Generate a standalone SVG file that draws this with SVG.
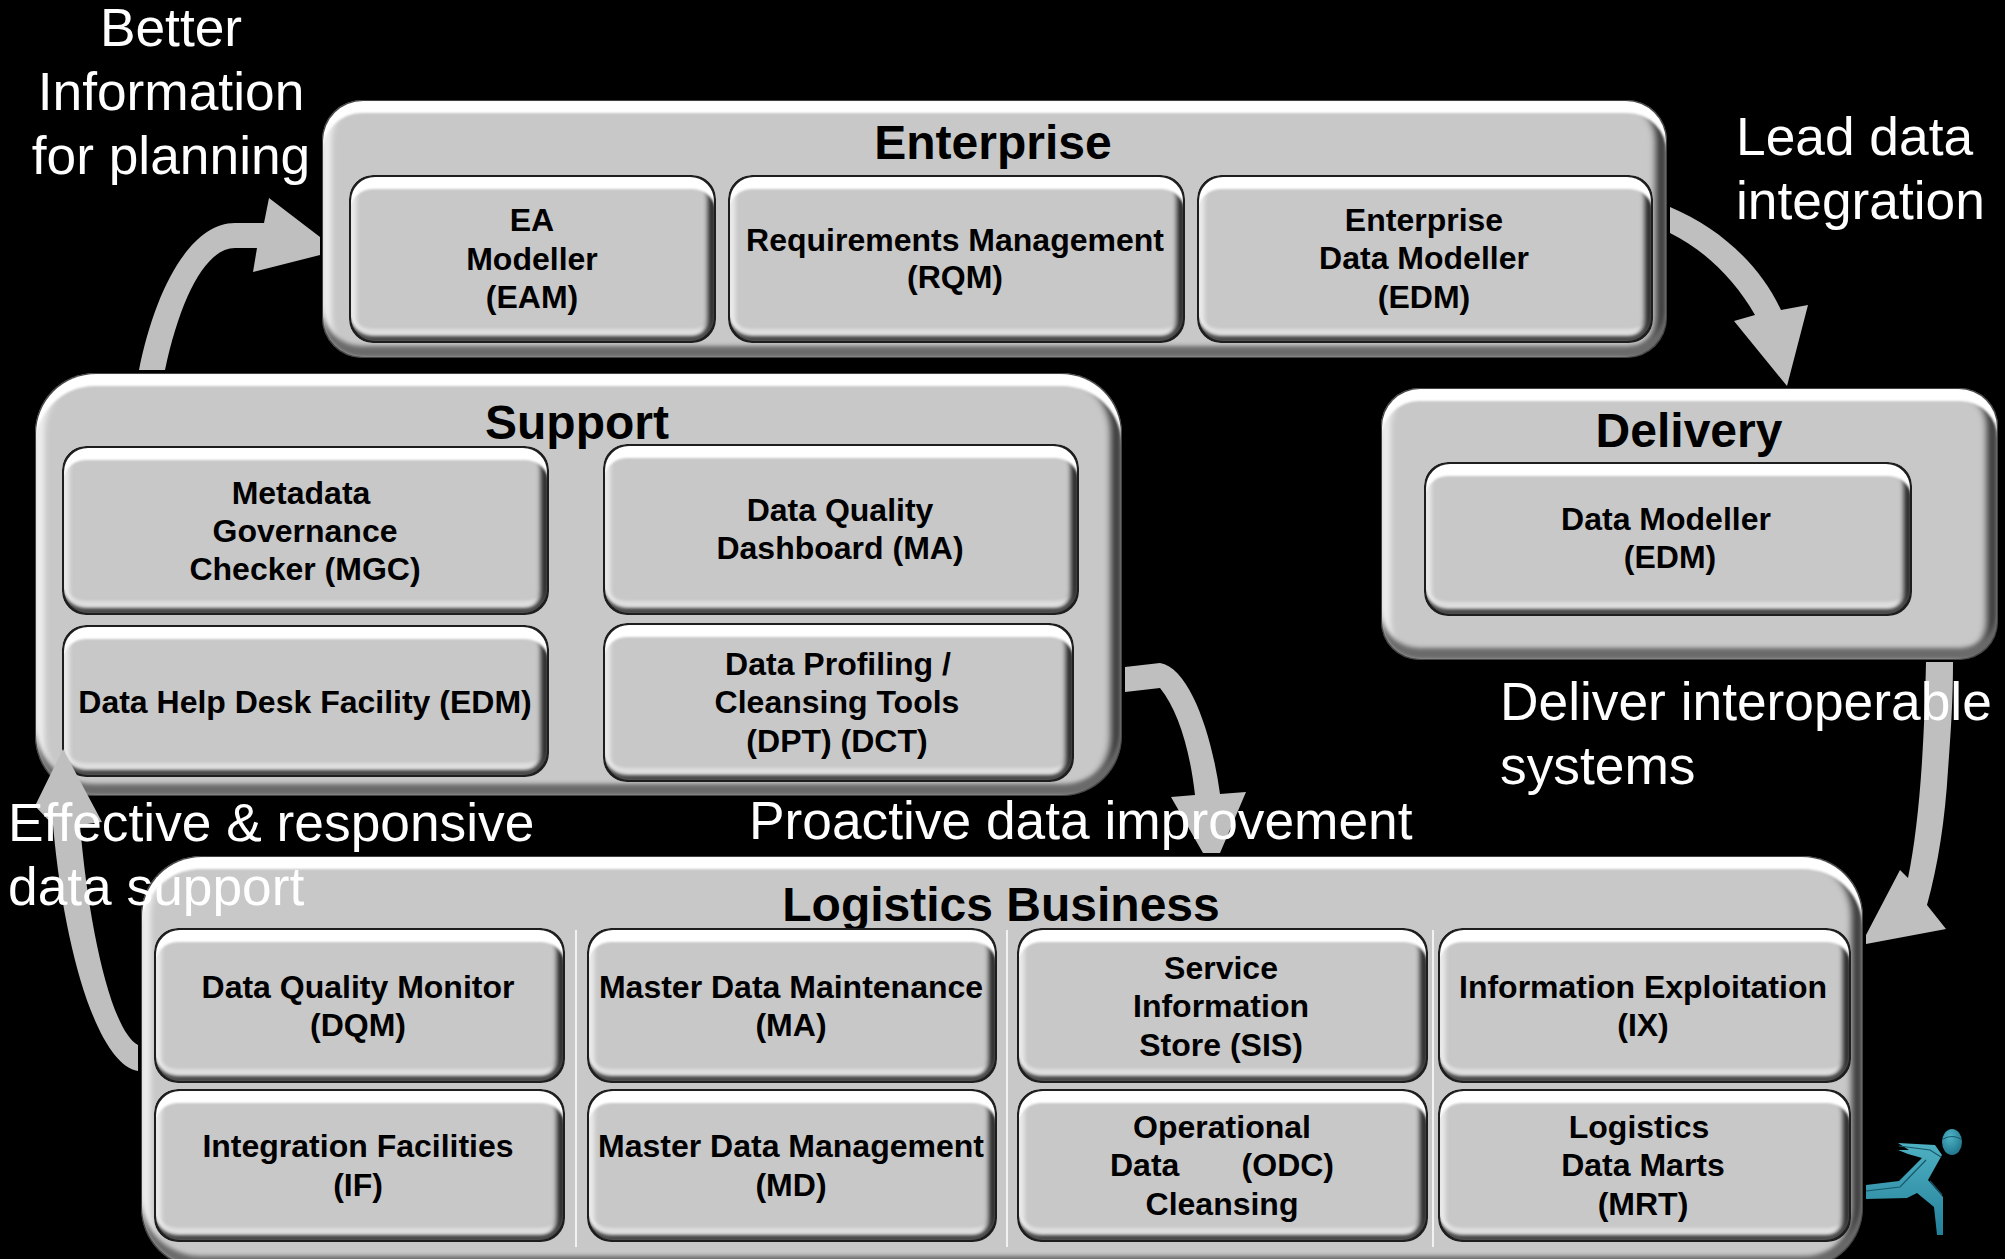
<svg xmlns="http://www.w3.org/2000/svg" width="2005" height="1259" viewBox="0 0 2005 1259">
<style>
text{font-family:"Liberation Sans",Arial,sans-serif}
.p{fill:#c8c8c8;filter:url(#bevP)}
.s{fill:#c8c8c8;filter:url(#bevS)}
.t{font-size:32px;font-weight:700;fill:#000;text-anchor:middle}
.h{font-size:48px;font-weight:700;fill:#000;text-anchor:middle}
.l{font-size:53.3px;fill:#fff}
.c{text-anchor:middle}
.a{fill:#bfbfbf}
.sep{stroke:#fff;stroke-width:1.5;fill:none}
</style>
<defs>
<filter id="bevP" x="-2%" y="-4%" width="104%" height="108%" color-interpolation-filters="sRGB">
<feOffset in="SourceAlpha" dy="13" result="a1"/><feComposite in="SourceAlpha" in2="a1" operator="out"/><feGaussianBlur stdDeviation="1.2" result="b1"/><feFlood flood-color="#fff"/><feComposite in2="b1" operator="in" result="top"/>
<feOffset in="SourceAlpha" dy="-12" result="a2"/><feComposite in="SourceAlpha" in2="a2" operator="out"/><feGaussianBlur stdDeviation="2" result="b2"/><feFlood flood-color="#6a6a6a"/><feComposite in2="b2" operator="in" result="bot"/>
<feOffset in="SourceAlpha" dx="9" result="a3"/><feComposite in="SourceAlpha" in2="a3" operator="out"/><feGaussianBlur stdDeviation="3" result="b3"/><feFlood flood-color="#f2f2f2"/><feComposite in2="b3" operator="in" result="lft"/>
<feOffset in="SourceAlpha" dx="-11" result="a4"/><feComposite in="SourceAlpha" in2="a4" operator="out"/><feGaussianBlur stdDeviation="3.5" result="b4"/><feFlood flood-color="#333"/><feComposite in2="b4" operator="in" result="rgt"/>
<feMorphology in="SourceAlpha" operator="erode" radius="1" result="e"/><feComposite in="SourceAlpha" in2="e" operator="out" result="o"/><feFlood flood-color="#444"/><feComposite in2="o" operator="in" result="line"/>
<feMerge result="m"><feMergeNode in="SourceGraphic"/><feMergeNode in="lft"/><feMergeNode in="rgt"/><feMergeNode in="bot"/><feMergeNode in="top"/><feMergeNode in="line"/></feMerge>
<feComposite in="m" in2="SourceAlpha" operator="in"/>
</filter>
<filter id="bevS" x="-3%" y="-5%" width="106%" height="110%" color-interpolation-filters="sRGB">
<feOffset in="SourceAlpha" dy="14" result="a1"/><feComposite in="SourceAlpha" in2="a1" operator="out"/><feGaussianBlur stdDeviation="1.2" result="b1"/><feFlood flood-color="#fff"/><feComposite in2="b1" operator="in" result="top"/>
<feOffset in="SourceAlpha" dy="-7" result="a2"/><feComposite in="SourceAlpha" in2="a2" operator="out"/><feGaussianBlur stdDeviation="1.5" result="b2"/><feFlood flood-color="#4a4a4a"/><feComposite in2="b2" operator="in" result="bot"/>
<feOffset in="SourceAlpha" dy="-14" result="a5"/><feComposite in="SourceAlpha" in2="a5" operator="out"/><feGaussianBlur stdDeviation="1.5" result="b5"/><feFlood flood-color="#dedede"/><feComposite in2="b5" operator="in" result="bot2"/>
<feOffset in="SourceAlpha" dx="7" result="a3"/><feComposite in="SourceAlpha" in2="a3" operator="out"/><feGaussianBlur stdDeviation="2.5" result="b3"/><feFlood flood-color="#eee"/><feComposite in2="b3" operator="in" result="lft"/>
<feOffset in="SourceAlpha" dx="-8" result="a4"/><feComposite in="SourceAlpha" in2="a4" operator="out"/><feGaussianBlur stdDeviation="2.5" result="b4"/><feFlood flood-color="#222"/><feComposite in2="b4" operator="in" result="rgt"/>
<feMorphology in="SourceAlpha" operator="erode" radius="2" result="e"/><feComposite in="SourceAlpha" in2="e" operator="out" result="o"/><feFlood flood-color="#1e1e1e"/><feComposite in2="o" operator="in" result="line"/>
<feMerge result="m"><feMergeNode in="SourceGraphic"/><feMergeNode in="bot2"/><feMergeNode in="lft"/><feMergeNode in="rgt"/><feMergeNode in="bot"/><feMergeNode in="top"/><feMergeNode in="line"/></feMerge>
<feComposite in="m" in2="SourceAlpha" operator="in"/>
</filter>
<linearGradient id="teal" x1="0" y1="0" x2="0" y2="1"><stop offset="0" stop-color="#4fb0c2"/><stop offset="1" stop-color="#23809a"/></linearGradient>
<radialGradient id="tealH" cx="0.4" cy="0.3" r="0.8"><stop offset="0" stop-color="#4fb3c5"/><stop offset="1" stop-color="#1c7087"/></radialGradient>
</defs>
<rect width="2005" height="1259" fill="#000"/>

<g id="enterprise">
<rect class="p" x="322" y="100" width="1345" height="258" rx="40"/>
<text class="h" x="993" y="159">Enterprise</text>
</g>
<g id="eam"><rect class="s" x="349" y="175" width="367" height="168" rx="24"/>
<text class="t"><tspan x="532" y="231">EA</tspan><tspan x="532" y="270">Modeller</tspan><tspan x="532" y="308">(EAM)</tspan></text></g>
<g id="rqm"><rect class="s" x="728" y="175" width="457" height="168" rx="24"/>
<text class="t"><tspan x="955" y="251">Requirements Management</tspan><tspan x="955" y="288">(RQM)</tspan></text></g>
<g id="edm-ent"><rect class="s" x="1197" y="175" width="456" height="168" rx="24"/>
<text class="t"><tspan x="1424" y="231">Enterprise</tspan><tspan x="1424" y="269">Data Modeller</tspan><tspan x="1424" y="308">(EDM)</tspan></text></g>

<g id="support">
<rect class="p" x="35" y="373" width="1087" height="423" rx="60"/>
<text class="h" x="577" y="439">Support</text>
</g>
<g id="mgc"><rect class="s" x="62" y="446" width="487" height="169" rx="24"/>
<text class="t"><tspan x="301" y="504">Metadata</tspan><tspan x="305" y="542">Governance</tspan><tspan x="305" y="580">Checker (MGC)</tspan></text></g>
<g id="dq"><rect class="s" x="603" y="444" width="476" height="171" rx="24"/>
<text class="t"><tspan x="840" y="521">Data Quality</tspan><tspan x="840" y="559">Dashboard (MA)</tspan></text></g>
<g id="help"><rect class="s" x="62" y="625" width="487" height="152" rx="24"/>
<text class="t" x="305" y="713">Data Help Desk Facility (EDM)</text></g>
<g id="dpt"><rect class="s" x="603" y="623" width="471" height="159" rx="24"/>
<text class="t"><tspan x="838" y="675">Data Profiling /</tspan><tspan x="837" y="713">Cleansing Tools</tspan><tspan x="837" y="752">(DPT) (DCT)</tspan></text></g>

<g id="delivery">
<rect class="p" x="1381" y="388" width="617" height="272" rx="38"/>
<text class="h" x="1689" y="447">Delivery</text>
</g>
<g id="dm"><rect class="s" x="1424" y="462" width="488" height="154" rx="24"/>
<text class="t"><tspan x="1666" y="530">Data Modeller</tspan><tspan x="1670" y="568">(EDM)</tspan></text></g>

<g id="logistics">
<rect class="p" x="141" y="856" width="1722" height="412" rx="60"/>
<text class="h" x="1001" y="921">Logistics Business</text>
<path class="sep" d="M576,930V1247M1007,930V1247M1433,930V1247"/>
</g>
<g id="dqm"><rect class="s" x="154" y="928" width="411" height="155" rx="24"/>
<text class="t"><tspan x="358" y="998">Data Quality Monitor</tspan><tspan x="358" y="1036">(DQM)</tspan></text></g>
<g id="if"><rect class="s" x="154" y="1089" width="411" height="153" rx="24"/>
<text class="t"><tspan x="358" y="1157">Integration Facilities</tspan><tspan x="358" y="1196">(IF)</tspan></text></g>
<g id="ma"><rect class="s" x="587" y="928" width="410" height="155" rx="24"/>
<text class="t"><tspan x="791" y="998">Master Data Maintenance</tspan><tspan x="791" y="1036">(MA)</tspan></text></g>
<g id="md"><rect class="s" x="587" y="1089" width="410" height="153" rx="24"/>
<text class="t"><tspan x="791" y="1157">Master Data Management</tspan><tspan x="791" y="1196">(MD)</tspan></text></g>
<g id="sis"><rect class="s" x="1017" y="928" width="411" height="155" rx="24"/>
<text class="t"><tspan x="1221" y="979">Service</tspan><tspan x="1221" y="1017">Information</tspan><tspan x="1221" y="1056">Store (SIS)</tspan></text></g>
<g id="odc"><rect class="s" x="1017" y="1089" width="411" height="153" rx="24"/>
<text class="t" xml:space="preserve"><tspan x="1222" y="1138">Operational</tspan><tspan x="1222" y="1176">Data       (ODC)</tspan><tspan x="1222" y="1215">Cleansing</tspan></text></g>
<g id="ix"><rect class="s" x="1438" y="928" width="413" height="155" rx="24"/>
<text class="t"><tspan x="1643" y="998">Information Exploitation</tspan><tspan x="1643" y="1036">(IX)</tspan></text></g>
<g id="mrt"><rect class="s" x="1438" y="1089" width="413" height="153" rx="24"/>
<text class="t"><tspan x="1639" y="1138">Logistics</tspan><tspan x="1643" y="1176">Data Marts</tspan><tspan x="1643" y="1215">(MRT)</tspan></text></g>

<g id="connectors">
<path class="a" d="M139,370C155,290 190,223 235,223L264,223L269,198L320,237L320,255L253,272L257,248L235,248C205,248 180,300 165,370Z"/>
<path class="a" d="M1670,207C1720,228 1760,265 1781,310L1808,305L1787,386L1734,321L1755,315C1735,280 1705,250 1670,233Z"/>
<path class="a" d="M1926,662L1953,662C1953,700 1951,730 1948,770C1945,820 1938,865 1927,905L1946,929L1866,944L1866,935L1900,870L1908,878C1918,830 1924,760 1926,662Z"/>
<path class="a" d="M1125,667L1160,663C1190,668 1212,735 1220,794L1246,792L1220,853L1203,853L1171,797L1195,795C1190,750 1178,710 1160,688L1125,692Z"/>
<path class="a" d="M138,1071C100,1065 65,960 53,825L35,806L63,749L102,822L80,825C88,920 110,1030 138,1045Z"/>
</g>

<g id="labels">
<text class="l c"><tspan x="171" y="46">Better</tspan><tspan x="171" y="110">Information</tspan><tspan x="171" y="174">for planning</tspan></text>
<text class="l"><tspan x="1736" y="155">Lead data</tspan><tspan x="1736" y="219">integration</tspan></text>
<text class="l"><tspan x="1500" y="720">Deliver interoperable</tspan><tspan x="1500" y="784">systems</tspan></text>
<text class="l" x="749" y="839">Proactive data improvement</text>
<text class="l"><tspan x="8" y="841">Effective &amp; responsive</tspan><tspan x="8" y="905">data support</tspan></text>
</g>

<g id="runner">
<path fill="url(#teal)" d="M1866,1185L1899,1181L1922,1158L1908,1154L1898,1150L1909,1150L1898,1143L1935,1145L1942,1155L1928,1180L1943,1197L1943,1235L1937,1235L1934,1207L1917,1193L1907,1198L1866,1199Z"/>
<path fill="none" stroke="#17566a" stroke-width="1.2" d="M1866,1191L1900,1187L1926,1160M1930,1181L1942,1195M1899,1146L1930,1150L1941,1157"/>
<ellipse cx="1952" cy="1142" rx="10" ry="13" fill="url(#tealH)"/>
<path fill="none" stroke="#17566a" stroke-width="1" d="M1943,1139Q1952,1134 1961,1139"/>
</g>
</svg>
